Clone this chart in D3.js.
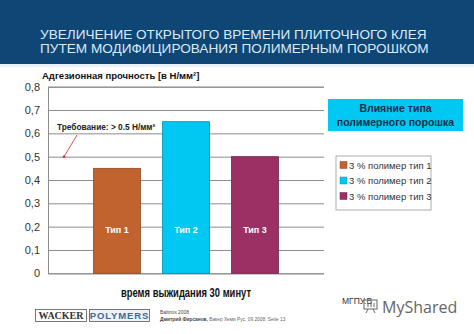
<!DOCTYPE html>
<html>
<head>
<meta charset="utf-8">
<script src="https://cdn.jsdelivr.net/npm/d3@7/dist/d3.min.js"></script>
<style>
  html, body { margin: 0; padding: 0; background: #fff; }
  svg { display: block; }
</style>
</head>
<body>
<svg id="chart" width="474" height="334"></svg>
<script>
// Adhesion strength after 30 min open time, by polymer powder type
const categories = ["Тип 1", "Тип 2", "Тип 3"];
const values = [0.45, 0.65, 0.5];
const seriesNames = ["3 % полимер тип 1", "3 % полимер тип 2", "3 % полимер тип 3"];
const colors = ["#c1632f", "#00c8f2", "#9b3064"];
const yTicks = [0, 0.1, 0.2, 0.3, 0.4, 0.5, 0.6, 0.7, 0.8];
const requirement = 0.5;

const svg = d3.select("#chart");
const font = "Arial, 'Liberation Sans', sans-serif";

// header band
svg.append("rect").attr("x", 0).attr("y", 0).attr("width", 474).attr("height", 64).attr("fill", "#0e4676");
svg.append("rect").attr("x", 0).attr("y", 64).attr("width", 474).attr("height", 3).attr("fill", "#e8f2f8");
const title = svg.append("text").attr("font-family", font).attr("font-size", 13.6).attr("fill", "#dbeaf6");
title.append("tspan").attr("x", 40).attr("y", 38.5).text("УВЕЛИЧЕНИЕ ОТКРЫТОГО ВРЕМЕНИ ПЛИТОЧНОГО КЛЕЯ");
title.append("tspan").attr("x", 40).attr("y", 52.5).text("ПУТЕМ МОДИФИЦИРОВАНИЯ ПОЛИМЕРНЫМ ПОРОШКОМ");

// scales
const x = d3.scaleBand().domain(categories).range([48, 324]).paddingInner(0.32).paddingOuter(0.66);
const y = d3.scaleLinear().domain([0, 0.8]).range([273.3, 86.7]);

// gridlines and y tick labels
const yAxis = d3.axisLeft(y).tickValues(yTicks).tickSize(-(324 - 48)).tickPadding(8)
  .tickFormat(d => d3.format(".1f")(d).replace(".", ",").replace(/^0,0$/, "0"));
const gy = svg.append("g").attr("transform", "translate(48,0)").call(yAxis);
gy.select(".domain").attr("stroke", "#8c8c8c");
gy.selectAll(".tick line").attr("stroke", "#8c8c8c").attr("stroke-width", 1);
gy.selectAll(".tick text").attr("font-family", font).attr("font-size", 11).attr("fill", "#333");

// bars
svg.append("g").selectAll("rect").data(values).join("rect")
  .attr("x", (d, i) => x(categories[i]))
  .attr("y", d => y(d))
  .attr("width", x.bandwidth())
  .attr("height", d => y(0) - y(d))
  .attr("fill", (d, i) => colors[i])
  .attr("stroke", (d, i) => d3.color(colors[i]).darker(0.9))
  .attr("stroke-width", 0.8);

svg.append("g").selectAll("text").data(values).join("text")
  .attr("x", (d, i) => x(categories[i]) + x.bandwidth() / 2)
  .attr("y", 233)
  .attr("text-anchor", "middle")
  .attr("font-family", font).attr("font-size", 9).attr("font-weight", "bold")
  .attr("fill", "#fff")
  .text((d, i) => categories[i]);

// axis titles
svg.append("text").attr("x", 42).attr("y", 79).attr("font-family", font)
  .attr("font-size", 9.5).attr("font-weight", "bold").attr("fill", "#111")
  .text("Адгезионная прочность [в Н/мм²]");
svg.append("text").attr("x", 121).attr("y", 296.5)
  .attr("font-family", font).attr("font-size", 13).attr("font-weight", "bold").attr("fill", "#111")
  .attr("textLength", 130).attr("lengthAdjust", "spacingAndGlyphs")
  .text("время выжидания 30 минут");

// requirement annotation
svg.append("text").attr("x", 57).attr("y", 130).attr("font-family", font)
  .attr("font-size", 8.3).attr("font-weight", "bold").attr("fill", "#222")
  .text("Требование: > 0.5 Н/мм²");
svg.append("line").attr("x1", 77).attr("y1", 135).attr("x2", 64).attr("y2", y(requirement))
  .attr("stroke", "#d9262b").attr("stroke-width", 0.8);
svg.append("circle").attr("cx", 64).attr("cy", y(requirement)).attr("r", 1.3).attr("fill", "#d9262b");

// caption box
svg.append("rect").attr("x", 328).attr("y", 99).attr("width", 135).attr("height", 32).attr("fill", "#00c8f2");
const cap = svg.append("text").attr("text-anchor", "middle").attr("font-family", font)
  .attr("font-size", 10.5).attr("font-weight", "bold").attr("fill", "#15304a");
cap.append("tspan").attr("x", 395.5).attr("y", 112).text("Влияние типа");
cap.append("tspan").attr("x", 395.5).attr("y", 126).text("полимерного порошка");

// legend
svg.append("rect").attr("x", 336).attr("y", 156).attr("width", 95).attr("height", 54)
  .attr("fill", "#fff").attr("stroke", "#9a9a9a").attr("stroke-width", 0.8);
const leg = svg.append("g").selectAll("g").data(seriesNames).join("g")
  .attr("transform", (d, i) => `translate(340,${165 + i * 15.5})`);
leg.append("rect").attr("x", 0).attr("y", -3.5).attr("width", 7).attr("height", 7)
  .attr("fill", (d, i) => colors[i]).attr("stroke", (d, i) => d3.color(colors[i]).darker(0.8)).attr("stroke-width", 0.5);
leg.append("text").attr("x", 9).attr("y", 3.8).attr("font-family", font)
  .attr("font-size", 9.5).attr("fill", "#333").text(d => d);

// footer logos
svg.append("rect").attr("x", 35.5).attr("y", 309.5).attr("width", 51).attr("height", 12)
  .attr("fill", "#fff").attr("stroke", "#555").attr("stroke-width", 0.8);
svg.append("text").attr("x", 61).attr("y", 319.2).attr("text-anchor", "middle")
  .attr("font-family", "'Liberation Serif', 'DejaVu Serif', serif").attr("font-size", 10)
  .attr("font-weight", "bold").attr("fill", "#333").text("WACKER");
svg.append("rect").attr("x", 89.5).attr("y", 309.5).attr("width", 60).attr("height", 12)
  .attr("fill", "#eef3f8").attr("stroke", "#555").attr("stroke-width", 0.8);
svg.append("text").attr("x", 119.5).attr("y", 319.2).attr("text-anchor", "middle")
  .attr("font-family", font).attr("font-size", 9.5).attr("font-weight", "bold")
  .attr("letter-spacing", 0.9).attr("fill", "#3c6a93").text("POLYMERS");

svg.append("text").attr("x", 160).attr("y", 313.5).attr("font-family", font)
  .attr("font-size", 4.8).attr("fill", "#444").text("Baltimix 2008");
const sig = svg.append("text").attr("x", 160).attr("y", 320.5).attr("font-family", font)
  .attr("font-size", 4.8).attr("fill", "#444");
sig.append("tspan").attr("font-weight", "bold").text("Дмитрий Фирсанов, ");
sig.append("tspan").attr("fill", "#666").text("Вакер Хеми Рус, 09.2008, Seite 13");

// watermark
svg.append("text").attr("x", 342).attr("y", 304).attr("font-family", font)
  .attr("font-size", 8.5).attr("fill", "#333").text("МГПУ.В");
const wm = svg.append("g").attr("transform", "translate(364,298)").attr("stroke", "#666").attr("fill", "none").attr("stroke-width", 1);
wm.append("rect").attr("x", 0).attr("y", 2).attr("width", 13).attr("height", 9);
wm.append("line").attr("x1", 4).attr("y1", 11).attr("x2", 2).attr("y2", 15);
wm.append("line").attr("x1", 9).attr("y1", 11).attr("x2", 11).attr("y2", 15);
wm.append("line").attr("x1", 4).attr("y1", 9).attr("x2", 4).attr("y2", 6);
wm.append("line").attr("x1", 7).attr("y1", 9).attr("x2", 7).attr("y2", 4);
wm.append("line").attr("x1", 10).attr("y1", 9).attr("x2", 10).attr("y2", 5);
svg.append("text").attr("x", 382).attr("y", 313).attr("font-family", "'Open Sans', Arial, sans-serif")
  .attr("font-size", 16).attr("fill", "#666").text("MyShared");
</script>
</body>
</html>
